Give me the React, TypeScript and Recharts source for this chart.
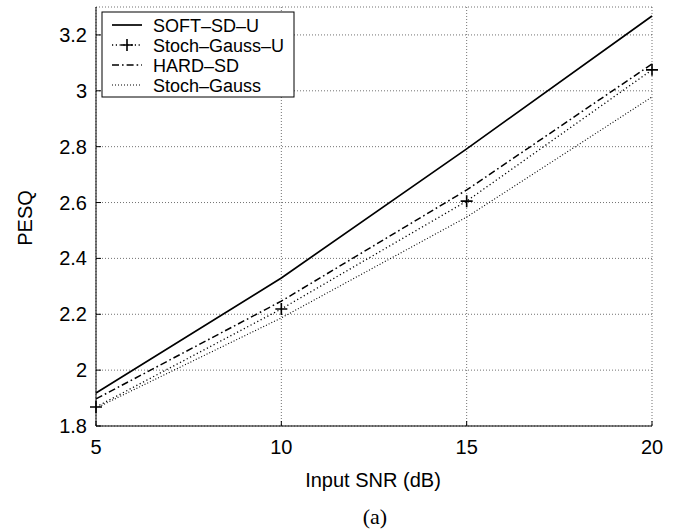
import React from 'react';
import { LineChart, Line, XAxis, YAxis, CartesianGrid, Legend } from 'recharts';

const snr = [5, 10, 15, 20];
const softSdU = [1.918, 2.33, 2.792, 3.268];
const stochGaussU = [1.868, 2.219, 2.605, 3.075];
const hardSd = [1.897, 2.247, 2.645, 3.096];
const stochGauss = [1.864, 2.187, 2.548, 2.978];

const xTicks = [5, 10, 15, 20];
const yTicks = [1.8, 2, 2.2, 2.4, 2.6, 2.8, 3, 3.2];
const seriesNames = ['SOFT\u2013SD\u2013U', 'Stoch\u2013Gauss\u2013U', 'HARD\u2013SD', 'Stoch\u2013Gauss'];

const data = snr.map((s, i) => ({
  snr: s,
  softSdU: softSdU[i],
  stochGaussU: stochGaussU[i],
  hardSd: hardSd[i],
  stochGauss: stochGauss[i],
}));

const FONT = '"Liberation Sans", Arial, Helvetica, sans-serif';
const TICK_LEN = 5;

const fmtY = (v: number) => (Number.isInteger(v) ? String(v) : v.toFixed(1));

const BottomTick = (props: any) => {
  const { x, y, payload } = props;
  return (
    <g>
      <line x1={x} y1={y} x2={x} y2={y - TICK_LEN} stroke="#000" strokeWidth={1} />
      <text x={x} y={y + 28} textAnchor="middle" fontFamily={FONT} fontSize={20} fill="#000">
        {payload.value}
      </text>
    </g>
  );
};

const TopTick = (props: any) => {
  const { x, y } = props;
  return <line x1={x} y1={y} x2={x} y2={y + TICK_LEN} stroke="#000" strokeWidth={1} />;
};

const LeftTick = (props: any) => {
  const { x, y, payload } = props;
  return (
    <g>
      <line x1={x} y1={y} x2={x + TICK_LEN} y2={y} stroke="#000" strokeWidth={1} />
      <text x={x - 9} y={y + 7} textAnchor="end" fontFamily={FONT} fontSize={20} fill="#000">
        {fmtY(payload.value)}
      </text>
    </g>
  );
};

const RightTick = (props: any) => {
  const { x, y } = props;
  return <line x1={x} y1={y} x2={x - TICK_LEN} y2={y} stroke="#000" strokeWidth={1} />;
};

const PlusDot = (props: any) => {
  const { cx, cy, index } = props;
  if (cx == null || cy == null) return <g key={`p${index}`} />;
  return (
    <path
      key={`p${index}`}
      d={`M${cx - 6},${cy}H${cx + 6}M${cx},${cy - 6}V${cy + 6}`}
      stroke="#000"
      strokeWidth={1.6}
      fill="none"
    />
  );
};

const styles = [
  { dash: undefined as string | undefined, width: 1.7, plus: false },
  { dash: '1.2 2.6', width: 1.3, plus: true },
  { dash: '7 3 1.6 3', width: 1.5, plus: false },
  { dash: '1 2', width: 1.1, plus: false },
];

const LegendBox = () => (
  <svg width={194} height={87} style={{ display: 'block' }}>
    <rect x={1} y={1} width={192} height={85} fill="#fff" stroke="#000" strokeWidth={1} />
    {seriesNames.map((name, i) => {
      const cy = 14 + i * 20;
      const st = styles[i];
      return (
        <g key={name}>
          <line x1={11} y1={cy} x2={41} y2={cy} stroke="#000" strokeWidth={st.width} strokeDasharray={st.dash} />
          {st.plus && (
            <path d={`M${26 - 6},${cy}H${26 + 6}M26,${cy - 6}V${cy + 6}`} stroke="#000" strokeWidth={1.6} />
          )}
          <text x={52} y={cy + 6.5} fontFamily={FONT} fontSize={18} fill="#000">
            {name}
          </text>
        </g>
      );
    })}
  </svg>
);

export default function App() {
  return (
    <div style={{ position: 'absolute', left: 0, top: 0, width: 673, height: 529, background: '#fff' }}>
      <LineChart width={673} height={529} data={data} margin={{ top: 7, right: 21, bottom: 0, left: 0 }}>
        <CartesianGrid
          xAxisId="b"
          yAxisId="l"
          stroke="#000"
          strokeOpacity={0.7}
          strokeWidth={0.8}
          strokeDasharray="1 2"
        />
        <XAxis
          xAxisId="b"
          dataKey="snr"
          type="number"
          domain={[5, 20]}
          ticks={xTicks}
          height={103}
          tickSize={0}
          tickMargin={0}
          axisLine={{ stroke: '#000', strokeWidth: 1 }}
          tick={<BottomTick />}
          interval={0}
        />
        <XAxis
          xAxisId="t"
          orientation="top"
          type="number"
          domain={[5, 20]}
          ticks={xTicks}
          height={0}
          tickSize={0}
          tickMargin={0}
          axisLine={{ stroke: '#000', strokeWidth: 1 }}
          tick={<TopTick />}
          interval={0}
        />
        <YAxis
          yAxisId="l"
          type="number"
          domain={[1.8, 3.3]}
          ticks={yTicks}
          width={96}
          tickSize={0}
          tickMargin={0}
          axisLine={{ stroke: '#000', strokeWidth: 1 }}
          tick={<LeftTick />}
          interval={0}
          label={{
            value: 'PESQ',
            content: () => (
              <text
                x={32}
                y={218}
                transform="rotate(-90 32 218)"
                textAnchor="middle"
                fontFamily={FONT}
                fontSize={20}
                fill="#000"
              >
                PESQ
              </text>
            ),
          }}
        />
        <YAxis
          yAxisId="r"
          orientation="right"
          type="number"
          domain={[1.8, 3.3]}
          ticks={yTicks}
          width={0}
          tickSize={0}
          tickMargin={0}
          axisLine={{ stroke: '#000', strokeWidth: 1 }}
          tick={<RightTick />}
          interval={0}
        />
        <Line
          xAxisId="b"
          yAxisId="l"
          dataKey="stochGauss"
          name={seriesNames[3]}
          stroke="#000"
          strokeWidth={styles[3].width}
          strokeDasharray={styles[3].dash}
          dot={false}
          activeDot={false}
          isAnimationActive={false}
        />
        <Line
          xAxisId="b"
          yAxisId="l"
          dataKey="hardSd"
          name={seriesNames[2]}
          stroke="#000"
          strokeWidth={styles[2].width}
          strokeDasharray={styles[2].dash}
          dot={false}
          activeDot={false}
          isAnimationActive={false}
        />
        <Line
          xAxisId="b"
          yAxisId="l"
          dataKey="stochGaussU"
          name={seriesNames[1]}
          stroke="#000"
          strokeWidth={styles[1].width}
          strokeDasharray={styles[1].dash}
          dot={<PlusDot />}
          activeDot={false}
          isAnimationActive={false}
        />
        <Line
          xAxisId="b"
          yAxisId="l"
          dataKey="softSdU"
          name={seriesNames[0]}
          stroke="#000"
          strokeWidth={styles[0].width}
          dot={false}
          activeDot={false}
          isAnimationActive={false}
        />
        <Legend
          layout="horizontal"
          verticalAlign="middle"
          align="center"
          wrapperStyle={{ position: 'absolute', left: 101, top: 11, width: 194, height: 87 }}
          content={() => <LegendBox />}
        />
        <text x={373} y={487} textAnchor="middle" fontFamily={FONT} fontSize={20} fill="#000">
          Input SNR (dB)
        </text>
        <text x={375} y={524} textAnchor="middle" fontFamily='"Liberation Serif", "Times New Roman", serif' fontSize={22} fill="#000">
          (a)
        </text>
      </LineChart>
    </div>
  );
}
